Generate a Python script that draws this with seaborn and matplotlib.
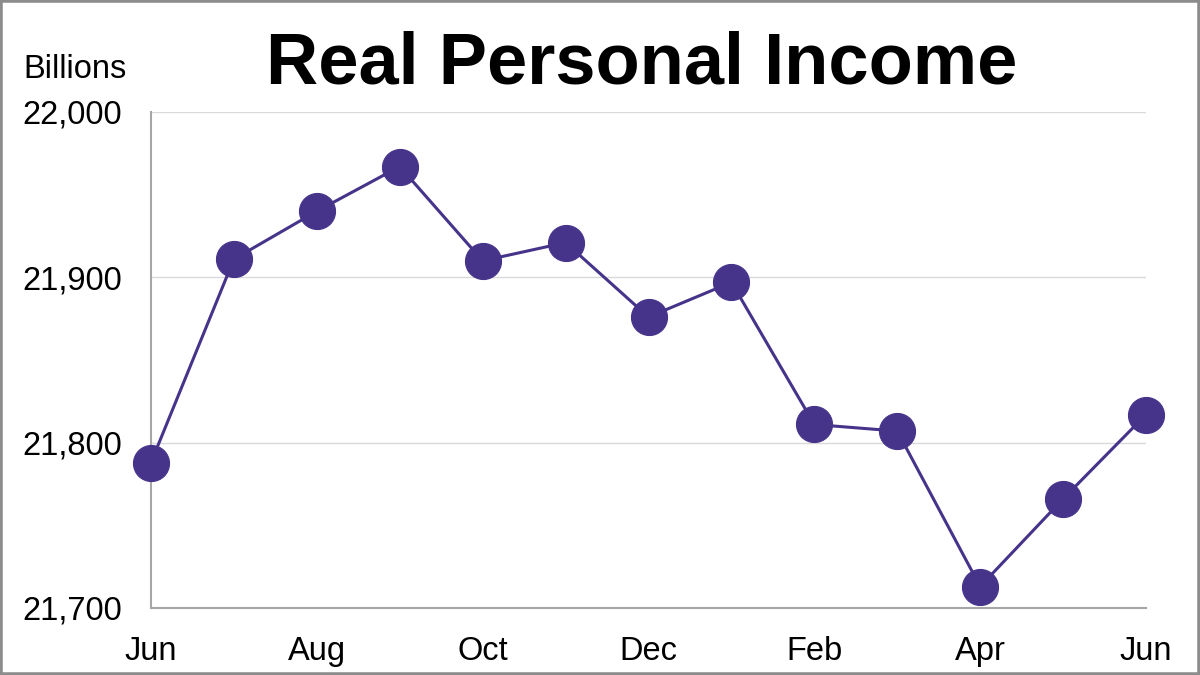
import pandas as pd
import numpy as np
import seaborn as sns
import matplotlib.pyplot as plt
from matplotlib.patches import Rectangle

# Monthly values (billions)
months = ['Jun', 'Jul', 'Aug', 'Sep', 'Oct', 'Nov', 'Dec',
          'Jan', 'Feb', 'Mar', 'Apr', 'May', 'Jun']
income = [21788, 21911, 21940, 21967, 21910, 21921, 21876,
          21897, 21811, 21807, 21713, 21766, 21817]
y_ticks = [21700, 21800, 21900, 22000]

df = pd.DataFrame({'pos': np.arange(len(months)), 'income': income})

sns.set_theme(style="white")
plt.rcParams['font.family'] = ['Liberation Sans', 'DejaVu Sans']

fig = plt.figure(figsize=(12, 6.75), dpi=100)
ax = fig.add_axes([151 / 1200, 1 - 608 / 675, 995 / 1200, 496 / 675])

purple = '#46338a'
sns.lineplot(data=df, x='pos', y='income', ax=ax, color=purple,
             linewidth=2.2, marker='o', markersize=26,
             markeredgecolor=purple, clip_on=False, zorder=5)

ax.set_xlim(0, len(months) - 1)
ax.set_ylim(y_ticks[0], y_ticks[-1])
ax.set_xticks(df['pos'][::2])
ax.set_xticklabels(months[::2])
ax.set_yticks(y_ticks)
ax.set_yticklabels([f'{v:,}' for v in y_ticks])
ax.tick_params(axis='both', labelsize=23.5, colors='black', length=0)
ax.tick_params(axis='x', pad=20)
ax.tick_params(axis='y', pad=21)
ax.set_xlabel('')
ax.set_ylabel('')

ax.yaxis.grid(True, color='#d9d9d9', linewidth=1)
ax.set_axisbelow(True)
sns.despine(ax=ax)
for side in ['left', 'bottom']:
    ax.spines[side].set_color('#a6a6a6')
    ax.spines[side].set_linewidth(1.5)

fig.text(0.535, 0.905, 'Real Personal Income', ha='center', va='center',
         fontsize=52, fontweight='bold', color='black')
fig.text(23 / 1200, 1 - 70 / 675, 'Billions', ha='left', va='center',
         fontsize=23.5, color='black')

fig.patches.append(Rectangle((0, 0), 1, 1, transform=fig.transFigure,
                             fill=False, edgecolor='#8c8c8c', linewidth=4))

fig.savefig('out.png', dpi=100)
